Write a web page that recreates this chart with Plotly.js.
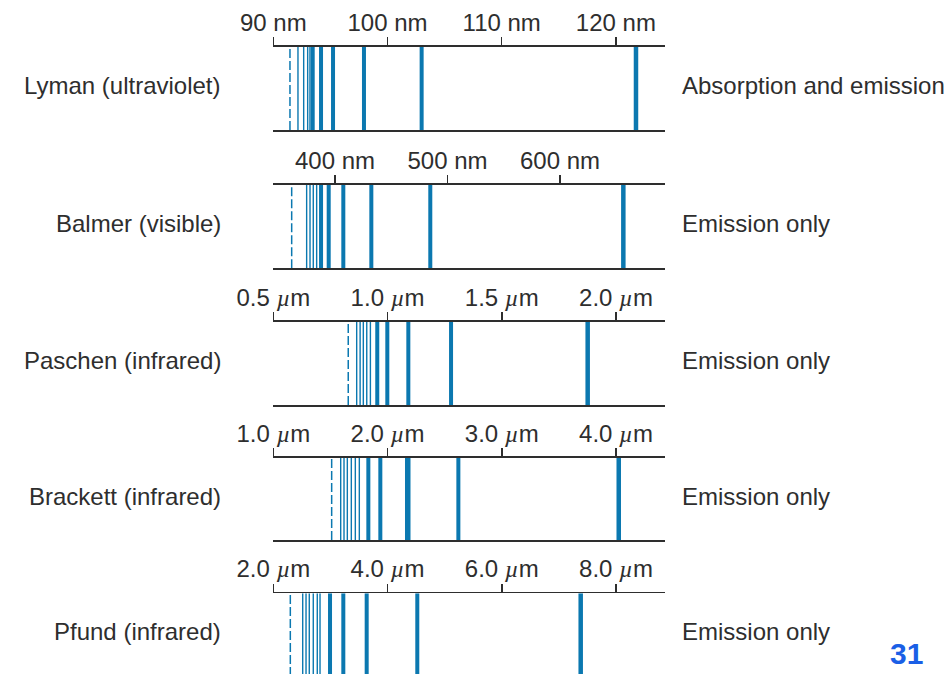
<!DOCTYPE html>
<html>
<head>
<meta charset="utf-8">
<script src="https://cdn.plot.ly/plotly-3.0.1.min.js"></script>
<style>
  html, body { margin: 0; padding: 0; background: #fff; }
  #wrap { width: 947px; height: 674px; overflow: hidden; position: relative; }
</style>
</head>
<body>
<div id="wrap"><div id="chart"></div></div>
<script>
// ---------------- DATA ----------------
const seriesNames = ['Lyman (ultraviolet)', 'Balmer (visible)', 'Paschen (infrared)', 'Brackett (infrared)', 'Pfund (infrared)'];
const seriesNotes = ['Absorption and emission', 'Emission only', 'Emission only', 'Emission only', 'Emission only'];

// wavelengths of the drawn lines; first entry of each = series limit (dashed)
const lymanNm    = [91.46, 92.16, 92.66, 93.01, 93.21, 93.45, 94.18, 95.23, 97.94, 102.99, 121.76];
const balmerNm   = [361.5, 374.8, 377.8, 380.7, 383.7, 387.6, 394.4, 407.4, 432.3, 484.7, 656.3];
const paschenUm  = [0.828, 0.865, 0.880, 0.894, 0.909, 0.925, 0.955, 0.999, 1.091, 1.278, 1.876];
const brackettUm = [1.511, 1.590, 1.619, 1.648, 1.683, 1.718, 1.753, 1.832, 1.937, 2.177, 2.620, 4.024];
const pfundUm    = [2.298, 2.515, 2.573, 2.630, 2.700, 2.770, 2.818, 2.993, 3.226, 3.635, 4.521, 7.382];

const lymanTicks = [90, 100, 110, 120];
const balmerTicks = [400, 500, 600];
const paschenTicks = [0.5, 1.0, 1.5, 2.0];
const brackettTicks = [1.0, 2.0, 3.0, 4.0];
const pfundTicks = [2.0, 4.0, 6.0, 8.0];

const MU = '<span style="font-family:\'Liberation Serif\',serif"><i>\u00b5</i></span>';
const lymanTickLabels = ['90 nm', '100 nm', '110 nm', '120 nm'];
const balmerTickLabels = ['400 nm', '500 nm', '600 nm'];
const paschenTickLabels = ['0.5 ' + MU + 'm', '1.0 ' + MU + 'm', '1.5 ' + MU + 'm', '2.0 ' + MU + 'm'];
const brackettTickLabels = ['1.0 ' + MU + 'm', '2.0 ' + MU + 'm', '3.0 ' + MU + 'm', '4.0 ' + MU + 'm'];
const pfundTickLabels = ['2.0 ' + MU + 'm', '4.0 ' + MU + 'm', '6.0 ' + MU + 'm', '8.0 ' + MU + 'm'];

const pageNumber = '31';

// ---------------- LAYOUT / STYLE ----------------
const W = 947, H = 700;
const BLUE = '#0b78b0';
const INK = '#2e2e2e';
const FONT = '"Liberation Sans", Arial, sans-serif';
const X0 = 273.3, X1 = 665;

const panels = [
  {lines: lymanNm,    ticks: lymanTicks,    labels: lymanTickLabels,    range: [90, 124.30],  top: 47,    bottom: 130,   thin: 4, wide: {}},
  {lines: balmerNm,   ticks: balmerTicks,   labels: balmerTickLabels,   range: [345.16, 693.33], top: 185, bottom: 268.3, thin: 4, wide: {}},
  {lines: paschenUm,  ticks: paschenTicks,  labels: paschenTickLabels,  range: [0.5, 2.2144], top: 321.7, bottom: 405,   thin: 5, wide: {}},
  {lines: brackettUm, ticks: brackettTicks, labels: brackettTickLabels, range: [1.0, 4.429],  top: 457.7, bottom: 540,   thin: 6, wide: {9: 5.5}},
  {lines: pfundUm,    ticks: pfundTicks,    labels: pfundTickLabels,    range: [2.0, 8.858],  top: 593.3, bottom: 676,   thin: 6, wide: {}}
];

const traces = [];
const layout = {
  width: W, height: H,
  margin: {l: 0, r: 0, t: 0, b: 0, pad: 0},
  paper_bgcolor: '#fff', plot_bgcolor: 'rgba(0,0,0,0)',
  showlegend: false,
  font: {family: FONT, color: INK, size: 24},
  annotations: [],
  hovermode: false
};

panels.forEach((p, i) => {
  const n = i + 1;
  const xa = 'x' + (n === 1 ? '' : n), ya = 'y' + (n === 1 ? '' : n);
  p.lines.forEach((v, j) => {
    let width, dash = 'solid';
    if (j === 0) { width = 1.5; dash = '9px,3px'; }
    else if (j <= p.thin) { width = 1.4; }
    else if (j === p.lines.length - 1) { width = 4.5; }
    else { width = 4; }
    if (p.wide[j]) width = p.wide[j];
    traces.push({
      type: 'scatter', mode: 'lines', x: [v, v], y: [0, 1],
      xaxis: xa, yaxis: ya,
      line: {color: BLUE, width: width, dash: dash},
      hoverinfo: 'skip'
    });
  });
  layout['xaxis' + (n === 1 ? '' : n)] = {
    domain: [X0 / W, X1 / W], anchor: ya, side: 'top',
    range: p.range, showgrid: false, zeroline: false,
    showline: true, mirror: true, linecolor: INK, linewidth: 1.6,
    ticks: 'outside', ticklen: 8, tickwidth: 1.5, tickcolor: INK,
    ticklabelstandoff: -3,
    tickmode: 'array', tickvals: p.ticks, ticktext: p.labels,
    tickfont: {family: FONT, size: 24, color: INK},
    automargin: false, fixedrange: true
  };
  layout['yaxis' + (n === 1 ? '' : n)] = {
    domain: [1 - p.bottom / H, 1 - p.top / H], anchor: xa,
    range: [0, 1], visible: false, fixedrange: true
  };
  const yc = 1 - (p.top + 38.5) / H;
  layout.annotations.push({
    xref: 'paper', yref: 'paper', x: 223 / W, y: yc, xanchor: 'right', yanchor: 'middle',
    text: seriesNames[i], showarrow: false, font: {family: FONT, size: 24, color: INK}
  });
  layout.annotations.push({
    xref: 'paper', yref: 'paper', x: 680 / W, y: yc, xanchor: 'left', yanchor: 'middle',
    text: seriesNotes[i], showarrow: false, font: {family: FONT, size: 24, color: INK}
  });
});

layout.annotations.push({
  xref: 'paper', yref: 'paper', x: 906 / W, y: 1 - 636 / H, xanchor: 'center', yanchor: 'top',
  borderpad: 0,
  text: '<b>' + pageNumber + '</b>', showarrow: false, font: {family: FONT, size: 30, color: '#1a5fe6'}
});

Plotly.newPlot('chart', traces, layout, {staticPlot: true, displayModeBar: false});
</script>
</body>
</html>
